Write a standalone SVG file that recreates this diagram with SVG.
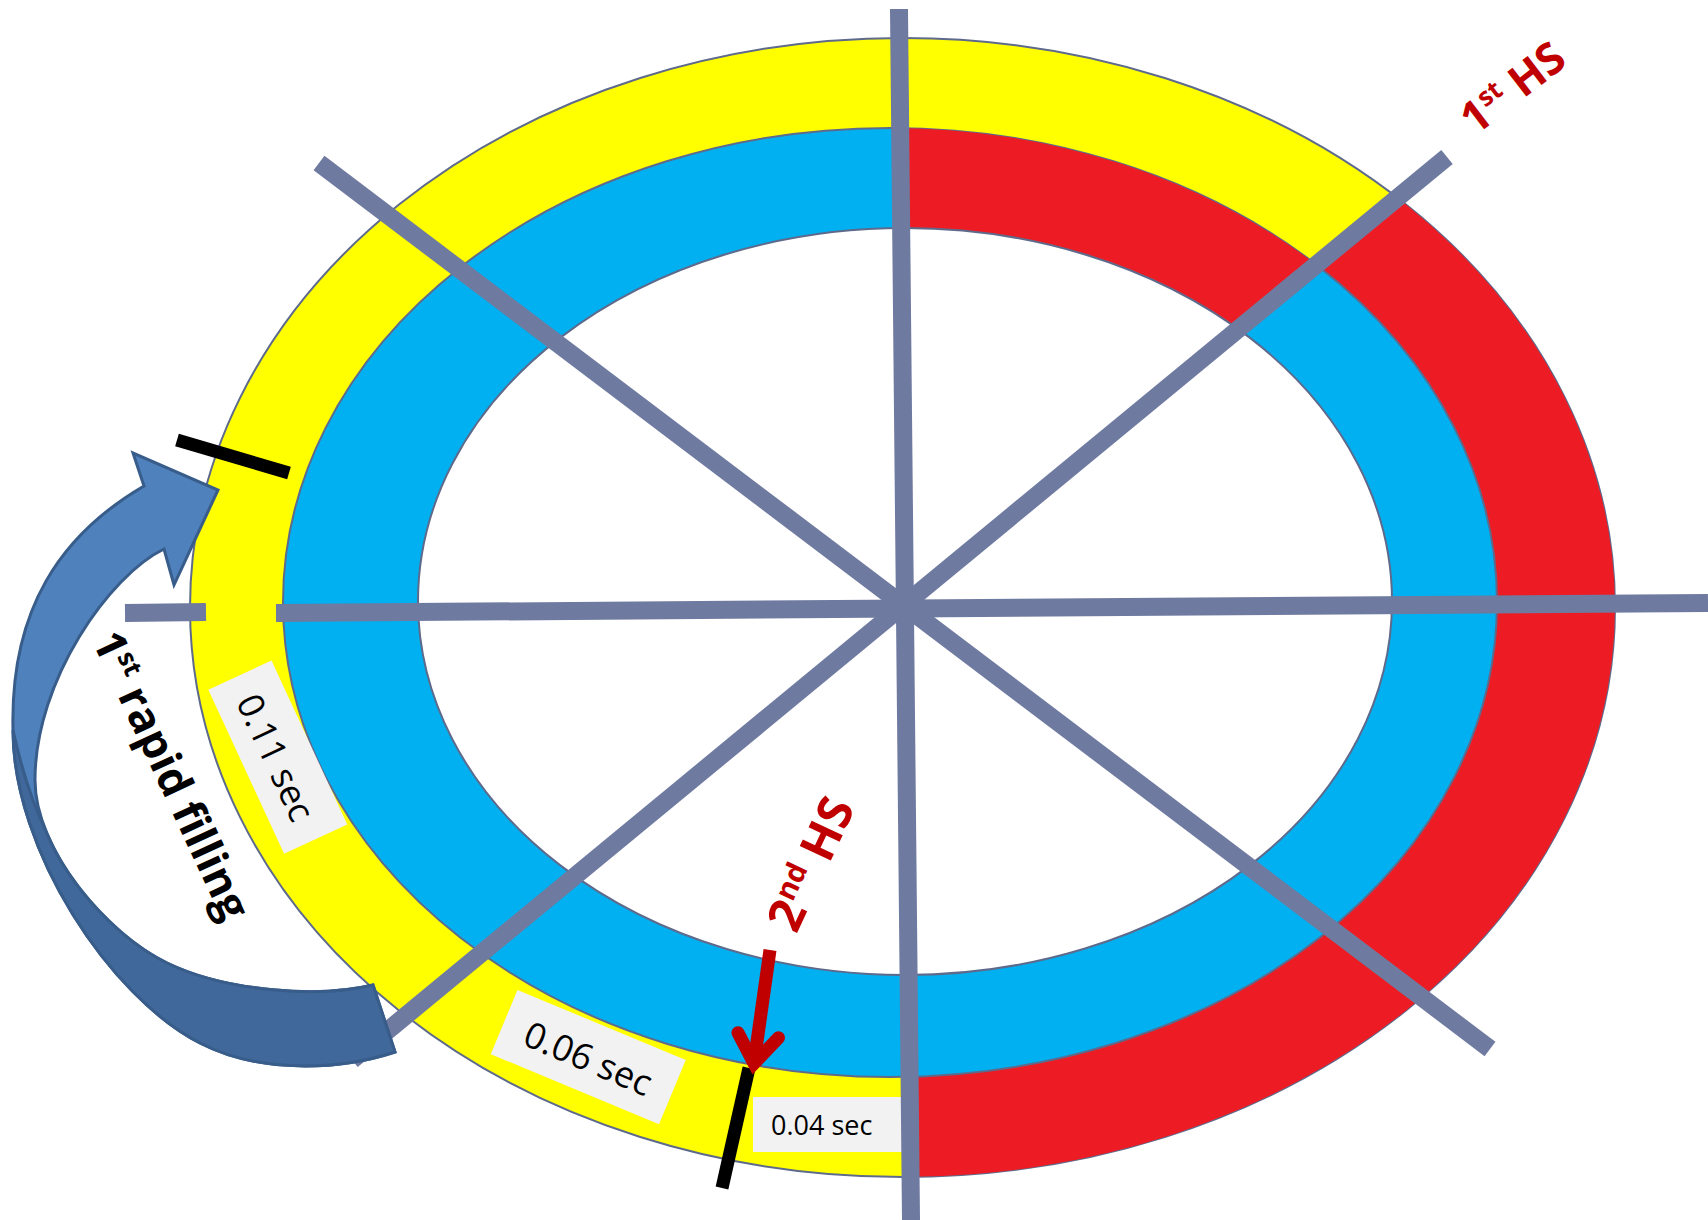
<svg xmlns="http://www.w3.org/2000/svg" width="1708" height="1220" viewBox="0 0 1708 1220">
<style>
.ring{stroke:#5E6A8C;stroke-width:2}
.spoke{stroke:#6F7AA0;stroke-width:18;fill:none}
.box{fill:#F2F2F2}
.lbl{font-family:"Open Sans","Liberation Sans",sans-serif;fill:#000}
.hs{font-family:"Open Sans","Liberation Sans",sans-serif;font-weight:bold;fill:#C00000}
.bold{font-family:"Open Sans","Liberation Sans",sans-serif;font-weight:bold;fill:#000}
.tick{stroke:#000;stroke-width:13;fill:none}
.arw{stroke:#385D8A;stroke-width:3;stroke-linejoin:miter}
</style>
<defs>
<clipPath id="clipOuter"><ellipse cx="902.5" cy="607.5" rx="712.5" ry="569.5"/></clipPath>
<clipPath id="clipMid"><ellipse cx="890" cy="602.5" rx="607" ry="474.5"/></clipPath>
</defs>
<rect width="1708" height="1220" fill="#fff"/>
<g id="outer-ring">
<ellipse class="ring" cx="902.5" cy="607.5" rx="712.5" ry="569.5" fill="#FFFF00"/>
<polygon clip-path="url(#clipOuter)" points="905,604 1992,-292 2100,-292 2100,1400 913,1400" fill="#ED1C24"/>
</g>
<g id="inner-ring">
<ellipse class="ring" cx="890" cy="602.5" rx="607" ry="474.5" fill="#00B0F0"/>
<polygon clip-path="url(#clipMid)" points="905,604 898,-300 2002,-300" fill="#ED1C24"/>
</g>
<g id="center">
<ellipse class="ring" cx="905" cy="601.5" rx="487" ry="373.5" fill="#FFFFFF"/>
</g>
<g id="labels-boxes">
<g id="lbl-011">
<rect class="box" x="-90.3" y="-34.8" width="180.6" height="69.6" transform="translate(277.8,757.1) rotate(65.2)"/>
<text class="lbl" font-size="36" text-anchor="middle" transform="translate(264.1,763) rotate(65)">0.11 sec</text>
</g>
<g id="lbl-006">
<rect class="box" x="-91.2" y="-34.8" width="182.3" height="69.6" transform="translate(588.3,1057.1) rotate(22.6)"/>
<text class="lbl" font-size="36" text-anchor="middle" transform="translate(583.1,1070.3) rotate(23)">0.06 sec</text>
</g>
<g id="lbl-004">
<rect class="box" x="753" y="1097" width="155" height="55"/>
<text class="lbl" font-size="27" x="771" y="1135">0.04 sec</text>
</g>
</g>
<g id="spokes">
<line class="spoke" x1="899" y1="9" x2="911" y2="1220"/>
<line class="spoke" x1="276" y1="613" x2="1708" y2="603"/>
<line class="spoke" x1="125" y1="613" x2="206" y2="612"/>
<line class="spoke" x1="319" y1="163" x2="1490" y2="1049"/>
<line class="spoke" x1="1447" y1="157" x2="352" y2="1060"/>
</g>
<g id="filling-arrow">
<path class="arw" fill="#4F81BD" d="M144,486 L133,453 L218,490 L174,585 L164,549 C110,575 35,680 35,780 C35,850 107,934 167,963 C227,992 320,998 373,985 L395,1052 C340,1070 260,1074 200,1043 C110,997 13,850 13,730 C10,610 60,535 144,486 Z"/>
<path class="arw" fill="#41689B" d="M13,730 C13,850 110,997 200,1043 C260,1074 340,1070 395,1052 L373,985 C320,998 227,992 167,963 C122,941.25 70.25,888.6 47.2,834.1 Q26,790 13,730 Z"/>
</g>
<g id="ticks">
<line class="tick" x1="177" y1="440" x2="289" y2="473"/>
<line class="tick" x1="749" y1="1068" x2="722" y2="1188"/>
</g>
<g id="second-hs-arrow">
<line x1="770" y1="950" x2="754" y2="1063" stroke="#C00000" stroke-width="13"/>
<polyline points="738,1032.8 754,1063.5 778.5,1037.7" fill="none" stroke="#C00000" stroke-width="13" stroke-linecap="round" stroke-linejoin="miter" stroke-miterlimit="10"/>
</g>
<g id="texts">
<text class="hs" font-size="44" text-anchor="middle" transform="translate(1522,100) rotate(-37.5)">1<tspan font-size="26" dy="-16">st</tspan><tspan dy="16"> HS</tspan></text>
<text class="hs" font-size="48" text-anchor="middle" transform="translate(826,871) rotate(-65)">2<tspan font-size="29" dy="-17">nd</tspan><tspan dy="17"> HS</tspan></text>
<text class="bold" font-size="44" text-anchor="middle" transform="translate(157.6,781.8) rotate(65)">1<tspan font-size="26" dy="-16">st</tspan><tspan dy="16"> rapid filling</tspan></text>
</g>
</svg>
